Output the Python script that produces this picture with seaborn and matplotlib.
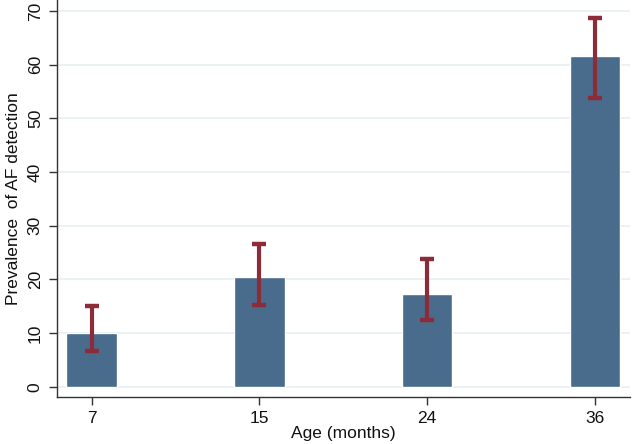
import pandas as pd
import seaborn as sns
import matplotlib.pyplot as plt
import numpy as np

ages = ["7", "15", "24", "36"]
prevalence = [10.1, 20.4, 17.3, 61.6]
ci_low = [6.7, 15.3, 12.4, 53.9]
ci_high = [15.0, 26.65, 23.8, 68.8]

df = pd.DataFrame({"Age": ages, "Prevalence": prevalence})

sns.set_style("white")
plt.rcParams["font.family"] = ["Liberation Sans", "DejaVu Sans"]

fig = plt.figure(figsize=(6.33, 4.44), dpi=100)
ax = fig.add_axes([0.0896, 0.1065, 0.906, 0.8935])

sns.barplot(df, x="Age", y="Prevalence", order=ages, color="#4a6c8c",
            saturation=1, width=0.30, errorbar=None, ax=ax, zorder=2)

#CI error bars
pos = np.arange(len(ages))
eb = ax.errorbar(pos, prevalence,
                 yerr=[np.array(prevalence) - np.array(ci_low), np.array(ci_high) - np.array(prevalence)],
                 fmt="none", ecolor="#8c2c39", elinewidth=3, capsize=5.2, capthick=3.2, zorder=3)
for cap in eb[1]:
    cap.set_solid_capstyle("round")
    cap.set_dash_capstyle("round")

ax.set_ylim(-1.86, 72.07)
ax.set_xlim(-0.208, 3.21)
ax.set_yticks(range(0, 71, 10))
ax.yaxis.grid(True, color="#e8f0f2", linewidth=1.2, zorder=0)
ax.set_axisbelow(True)

for s in ["top", "right"]:
    ax.spines[s].set_visible(False)
for s in ["left", "bottom"]:
    ax.spines[s].set_color("#333333")
    ax.spines[s].set_linewidth(1)

ax.tick_params(axis="both", direction="out", length=6, width=1, color="#333333",
               labelsize=12.5, labelcolor="#111111", pad=4)
ax.tick_params(axis="x", bottom=True)
ax.tick_params(axis="y", left=True)
for lab in ax.get_yticklabels():
    lab.set_rotation(90)
    lab.set_va("center")

ax.set_xlabel("Age (months)", fontsize=12.5, labelpad=0, color="#111111")
ax.set_ylabel("Prevalence  of AF detection", fontsize=12.5, labelpad=5, color="#111111")

fig.savefig("out.png", dpi=100)
